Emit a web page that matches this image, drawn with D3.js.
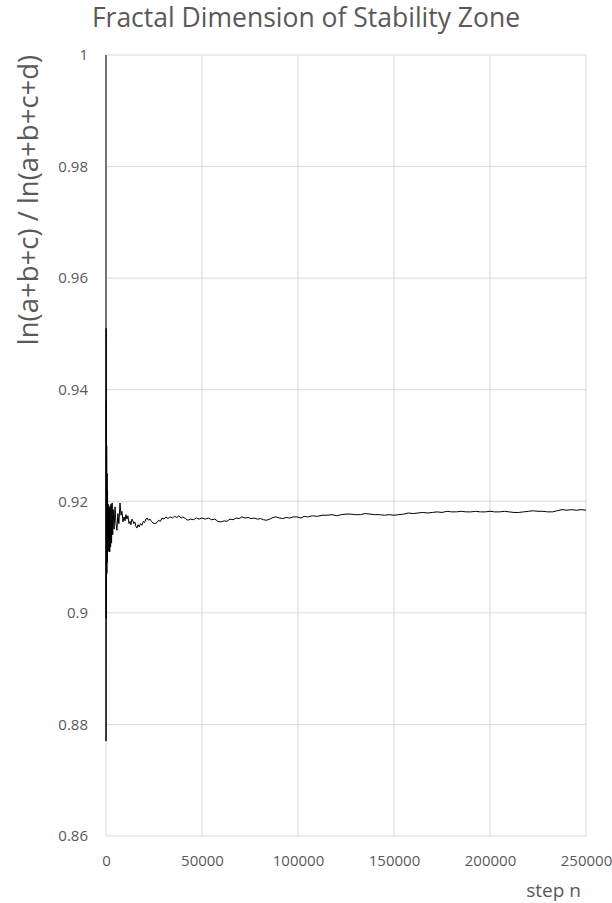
<!DOCTYPE html>
<html>
<head>
<meta charset="utf-8">
<script src="https://cdn.jsdelivr.net/npm/d3@7"></script>
<style>
  body { margin: 0; background: #fff; }
  text { font-family: "Open Sans", sans-serif; fill: #595959; }
</style>
</head>
<body>
<div id="chart"></div>
<script>
"use strict";

// step n and the ratio ln(a+b+c) / ln(a+b+c+d)
let stepN = [
  1, 20, 60, 120, 180, 260, 350, 450, 560, 680, 800, 950,
  1100, 1250, 1400, 1550, 1750, 1950, 2150, 2400, 2650, 2900, 3200, 3500,
  3800, 4200, 4700, 5200, 5700, 6200, 6700, 7300, 7800, 8300, 8850, 9400,
  9900, 10400, 10900, 11400, 12000, 12500, 13000, 13500, 14000, 14500, 15000, 15600,
  16100, 16700, 17300, 18000, 18700, 19400, 20100, 20800, 21400, 22100, 22900, 23700,
  24500, 25500, 26600, 27400, 28300, 29200, 30200, 31200, 32300, 33300, 34500, 35700,
  36900, 38000, 39100, 40100, 41400, 42700, 44000, 45500, 47000, 48500, 50000, 51700,
  53400, 55000, 56700, 58300, 59900, 61500, 63000, 64600, 66200, 67800, 69300, 70800,
  72400, 74000, 75600, 77200, 78800, 80400, 82000, 83600, 85300, 87000, 88600, 90300,
  92000, 93800, 95600, 97500, 99500, 101500, 103200, 105000, 107500, 110000, 112500, 115100,
  117700, 120300, 122500, 125000, 127500, 130000, 132500, 135000, 137500, 140000, 142500, 145000,
  147500, 150000, 152500, 155000, 157500, 160000, 162500, 165000, 167500, 170000, 172500, 175000,
  177500, 180000, 182500, 185000, 187500, 190000, 192500, 195000, 197500, 200000, 202500, 205000,
  207500, 210000, 212500, 215000, 217500, 220000, 222500, 225000, 227500, 230000, 232500, 235000,
  237500, 240000, 242500, 245000, 247500, 250000
];

let ratio = [
  1.0, 0.877, 0.951, 0.899, 0.938, 0.903, 0.930, 0.907, 0.925, 0.909, 0.922, 0.911,
  0.9195, 0.9112, 0.9190, 0.9110, 0.9188, 0.9109, 0.9192, 0.9118, 0.9195, 0.9125, 0.9197, 0.9140,
  0.9185, 0.9150, 0.9190, 0.9160, 0.9148, 0.9178, 0.9160, 0.9197, 0.9175, 0.9182, 0.9163, 0.9172,
  0.9165, 0.9176, 0.9168, 0.9174, 0.9160, 0.9164, 0.9158, 0.9168, 0.9165, 0.9160, 0.9163, 0.9155,
  0.9152, 0.9158, 0.9154, 0.9160, 0.9157, 0.9164, 0.9162, 0.9168, 0.9170, 0.9166, 0.9168, 0.9164,
  0.9161, 0.9160, 0.9162, 0.9166, 0.9164, 0.9170, 0.9168, 0.9172, 0.9169, 0.9172, 0.9170, 0.9173,
  0.9171, 0.9174, 0.9170, 0.9172, 0.9169, 0.9166, 0.9168, 0.9167, 0.9170, 0.9168, 0.9170, 0.9168,
  0.9170, 0.9167, 0.9168, 0.9164, 0.9163, 0.9165, 0.9164, 0.9168, 0.9167, 0.9170, 0.9169, 0.9172,
  0.9170, 0.9171, 0.9169, 0.9170, 0.9168, 0.9169, 0.9167, 0.9166, 0.9168, 0.9171, 0.9172, 0.9170,
  0.9169, 0.9171, 0.9170, 0.9172, 0.9172, 0.9170, 0.9173, 0.9172, 0.9174, 0.9173, 0.9175, 0.9175,
  0.9176, 0.9174, 0.9176, 0.9177, 0.9177, 0.9176, 0.9176, 0.9178, 0.9177, 0.9176, 0.9176, 0.9175,
  0.9176, 0.9175, 0.9176, 0.9177, 0.9179, 0.9178, 0.9179, 0.9180, 0.9179, 0.9180, 0.9181, 0.9180,
  0.9182, 0.9181, 0.9181, 0.9182, 0.9181, 0.9181, 0.9182, 0.9181, 0.9181, 0.9182, 0.9181, 0.9181,
  0.9182, 0.9181, 0.9180, 0.9180, 0.9181, 0.9182, 0.9183, 0.9182, 0.9182, 0.9181, 0.9181, 0.9183,
  0.9185, 0.9184, 0.9185, 0.9184, 0.9185, 0.9184
];

let xTicks = [0, 50000, 100000, 150000, 200000, 250000];
let yTicks = [0.86, 0.88, 0.9, 0.92, 0.94, 0.96, 0.98, 1];

let width = 612, height = 903;
let margin = {top: 55, right: 26, bottom: 67, left: 106};

let svg = d3.select("#chart")
    .append("svg")
    .attr("width", width)
    .attr("height", height);

let x = d3.scaleLinear()
    .domain([0, 250000])
    .range([margin.left, width - margin.right]);

let y = d3.scaleLinear()
    .domain([0.86, 1])
    .range([height - margin.bottom, margin.top]);

// gridlines
svg.append("g")
    .selectAll("line.h")
    .data(yTicks)
    .join("line")
    .attr("x1", x(0))
    .attr("x2", x(250000))
    .attr("y1", d => y(d))
    .attr("y2", d => y(d))
    .attr("stroke", "#d9d9d9")
    .attr("stroke-width", 1);

svg.append("g")
    .selectAll("line.v")
    .data(xTicks)
    .join("line")
    .attr("x1", d => x(d))
    .attr("x2", d => x(d))
    .attr("y1", y(0.86))
    .attr("y2", y(1))
    .attr("stroke", "#d9d9d9")
    .attr("stroke-width", 1);

// axes (labels only, lines are the gridlines)
let yAxis = svg.append("g")
    .attr("transform", `translate(${x(0)},0)`)
    .call(d3.axisLeft(y).tickValues(yTicks).tickSize(0).tickPadding(18).tickFormat(d3.format("")));

let xAxis = svg.append("g")
    .attr("transform", `translate(0,${y(0.86)})`)
    .call(d3.axisBottom(x).tickValues(xTicks).tickSize(0).tickPadding(19).tickFormat(d3.format("")));

[yAxis, xAxis].forEach(a => {
  a.select(".domain").remove();
  a.selectAll("text")
      .style("font-family", "'Open Sans', sans-serif")
      .style("font-size", "15px")
      .attr("fill", "#595959");
});

// data line
let points = stepN.map((n, i) => [n, ratio[i]]);

svg.append("path")
    .datum(points)
    .attr("fill", "none")
    .attr("stroke", "#000")
    .attr("stroke-width", 1)
    .attr("stroke-linejoin", "round")
    .attr("d", d3.line().x(d => x(d[0])).y(d => y(d[1])));

// title and axis titles
svg.append("text")
    .attr("x", 306)
    .attr("y", 27)
    .attr("text-anchor", "middle")
    .style("font-size", "26.5px")
    .text("Fractal Dimension of Stability Zone");

svg.append("text")
    .attr("transform", "translate(38,200) rotate(-90)")
    .attr("text-anchor", "middle")
    .style("font-size", "27.5px")
    .text("ln(a+b+c) / ln(a+b+c+d)");

svg.append("text")
    .attr("x", 581)
    .attr("y", 897)
    .attr("text-anchor", "end")
    .style("font-size", "19px")
    .text("step n");
</script>
</body>
</html>
